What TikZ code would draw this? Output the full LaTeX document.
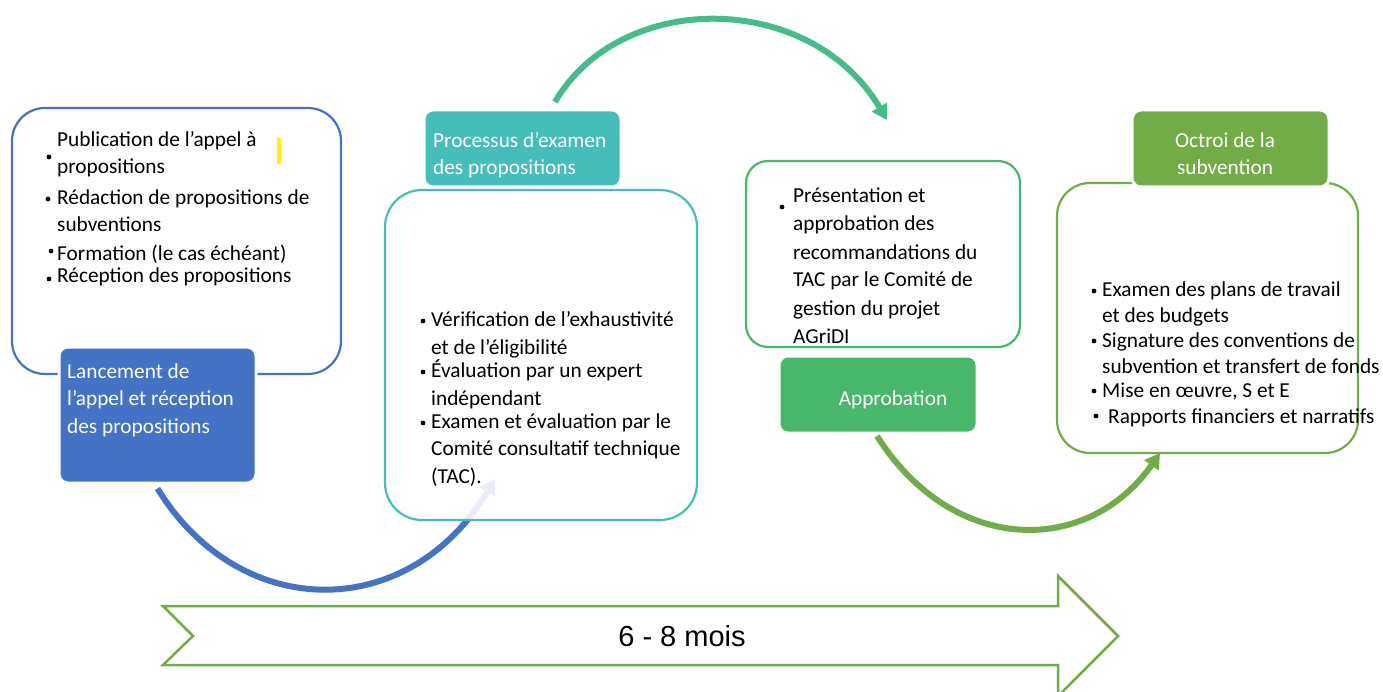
\documentclass[tikz,border=0pt]{standalone}
\usepackage{fontspec}
\setmainfont{Carlito}
\newfontfamily\labelfont{Liberation Sans}
\usetikzlibrary{arrows.meta}
\definecolor{blueA}{HTML}{4472C4}
\definecolor{tealA}{HTML}{46BEB8}
\definecolor{greenA}{HTML}{47B869}
\definecolor{greenB}{HTML}{70AD47}
\definecolor{arcTeal}{HTML}{44BD8A}
\newcommand\bodyfont{\fontsize{21.3}{27.5}\selectfont}
\begin{document}
\begin{tikzpicture}[x=1pt,y=-1pt,
  panel/.style={draw=#1, line width=2.2pt, fill=white, inner sep=0pt},
  tag/.style={fill=#1, draw=white, line width=3pt, rounded corners=9pt, inner sep=0pt},
  item/.style={font=\bodyfont, anchor=base west, align=left, inner sep=0pt},
  tagtext/.style={font=\bodyfont, text=white, inner sep=0pt},
  flow/.style={line width=6pt, draw=#1, -{Triangle[length=15pt,width=17pt]}},
  dot/.style={fill=black}]
\useasboundingbox (0,0) rectangle (1383,692);

% timeline arrow
\draw[draw=greenB, line width=2.5pt, fill=white, line join=miter]
  (163,606) -- (1058,606) -- (1058,576) -- (1118,636) -- (1058,696)
  -- (1058,665) -- (163,665) -- (193,636) -- cycle;
\node[font=\labelfont\fontsize{29}{32}\selectfont, inner sep=0pt] (span) at (682,636) {6 - 8 mois};

% outline panels
\node[panel=blueA, rounded corners=33pt, minimum width=329pt, minimum height=266pt] (box1) at (176.5,241) {};
\node[panel=greenA, rounded corners=22pt, minimum width=274pt, minimum height=186pt] (box3) at (883,254) {};
\node[panel=greenB, rounded corners=33pt, minimum width=301pt, minimum height=270pt] (box4) at (1207.5,318) {};

% stage tags
\node[tag=blueA, minimum width=197pt, minimum height=136pt] (lanc) at (157.5,415) {};
\node[tag=tealA, minimum width=197pt, minimum height=77pt] (proc) at (522.5,148.5) {};
\node[tag=greenA, minimum width=198pt, minimum height=77pt] (appr) at (878,394.5) {};
\node[tag=greenB, minimum width=197pt, minimum height=77pt] (octroi) at (1230.5,148.5) {};

% connectors between stages
\coordinate (blueend) at (495,479);
\coordinate (topstart) at (555,102);
\coordinate (topend) at (887,120);
\coordinate (greenstart) at (877,436);
\coordinate (greenend) at (1160,453);
\draw[flow=blueA] ([yshift=-4pt]lanc.south) .. controls (240,623) and (409,623) .. (blueend);
\draw[flow=arcTeal] (topstart) .. controls (620,-10) and (810,-10) .. (topend);
\draw[flow=greenB] (greenstart) .. controls (953,556) and (1088,556) .. (greenend);

% review panel, drawn over the incoming connector
\node[draw=tealA, line width=2.2pt, fill=white, fill opacity=0.88, draw opacity=1,
  rounded corners=37pt, minimum width=312pt, minimum height=330pt, inner sep=0pt] (box2) at (541,355) {};

% tag labels (a multi-line node sits on the baseline of its last line)
\node[tagtext, item] (lanctext) at (67,433) {Lancement de\\l’appel et réception\\des propositions};
\node[tagtext, item] (proctext) at (433,175) {Processus d’examen\\des propositions};
\node[tagtext, anchor=base] (apprtext) at (893,405) {Approbation};
\node[tagtext, anchor=base, align=center] (octroitext) at (1225,175) {Octroi de la\\subvention};

% panel 1
\node[item] (p1a) at (57,174) {Publication de l’appel à\\propositions};
\node[item] (p1b) at (57,232) {Rédaction de propositions de\\subventions};
\node[item] (p1c) at (57,261) {Formation (le cas échéant)};
\node[item] (p1d) at (57,283) {Réception des propositions};
\fill[dot] (49,157) circle (2.4pt);
\fill[dot] (48,199) circle (2.4pt);
\fill[dot] (51,251) circle (2.4pt);
\fill[dot] (49,279) circle (2.4pt);
\fill[yellow] (277,138) rectangle (281,164);

% panel 2
\node[item] (p2a) at (431,354) {Vérification de l’exhaustivité\\et de l’éligibilité};
\node[item] (p2b) at (431,405) {Évaluation par un expert\\indépendant};
\node[item] (p2c) at (431,483) {Examen et évaluation par le\\Comité consultatif technique\\(TAC).};
\fill[dot] (423,321) circle (2.4pt);
\fill[dot] (423,372) circle (2.4pt);
\fill[dot] (423,423) circle (2.4pt);

% panel 3
\node[item, font=\fontsize{21.3}{28}\selectfont] (p3a) at (793,343) {Présentation et\\approbation des\\recommandations du\\TAC par le Comité de\\gestion du projet\\AGriDI};
\fill[dot] (782,207) circle (2.4pt);

% panel 4
\node[item, font=\fontsize{21.3}{26}\selectfont] (p4a) at (1102,323) {Examen des plans de travail\\et des budgets};
\node[item, font=\fontsize{21.3}{26}\selectfont] (p4b) at (1102,373) {Signature des conventions de\\subvention et transfert de fonds};
\node[item] (p4c) at (1102,397) {Mise en œuvre, S et E};
\node[item] (p4d) at (1108,423) {Rapports financiers et narratifs};
\fill[dot] (1094,291) circle (2.4pt);
\fill[dot] (1094,341) circle (2.4pt);
\fill[dot] (1094,391) circle (2.4pt);
\fill[dot] (1096,416) circle (2.4pt);
\end{tikzpicture}
\end{document}
